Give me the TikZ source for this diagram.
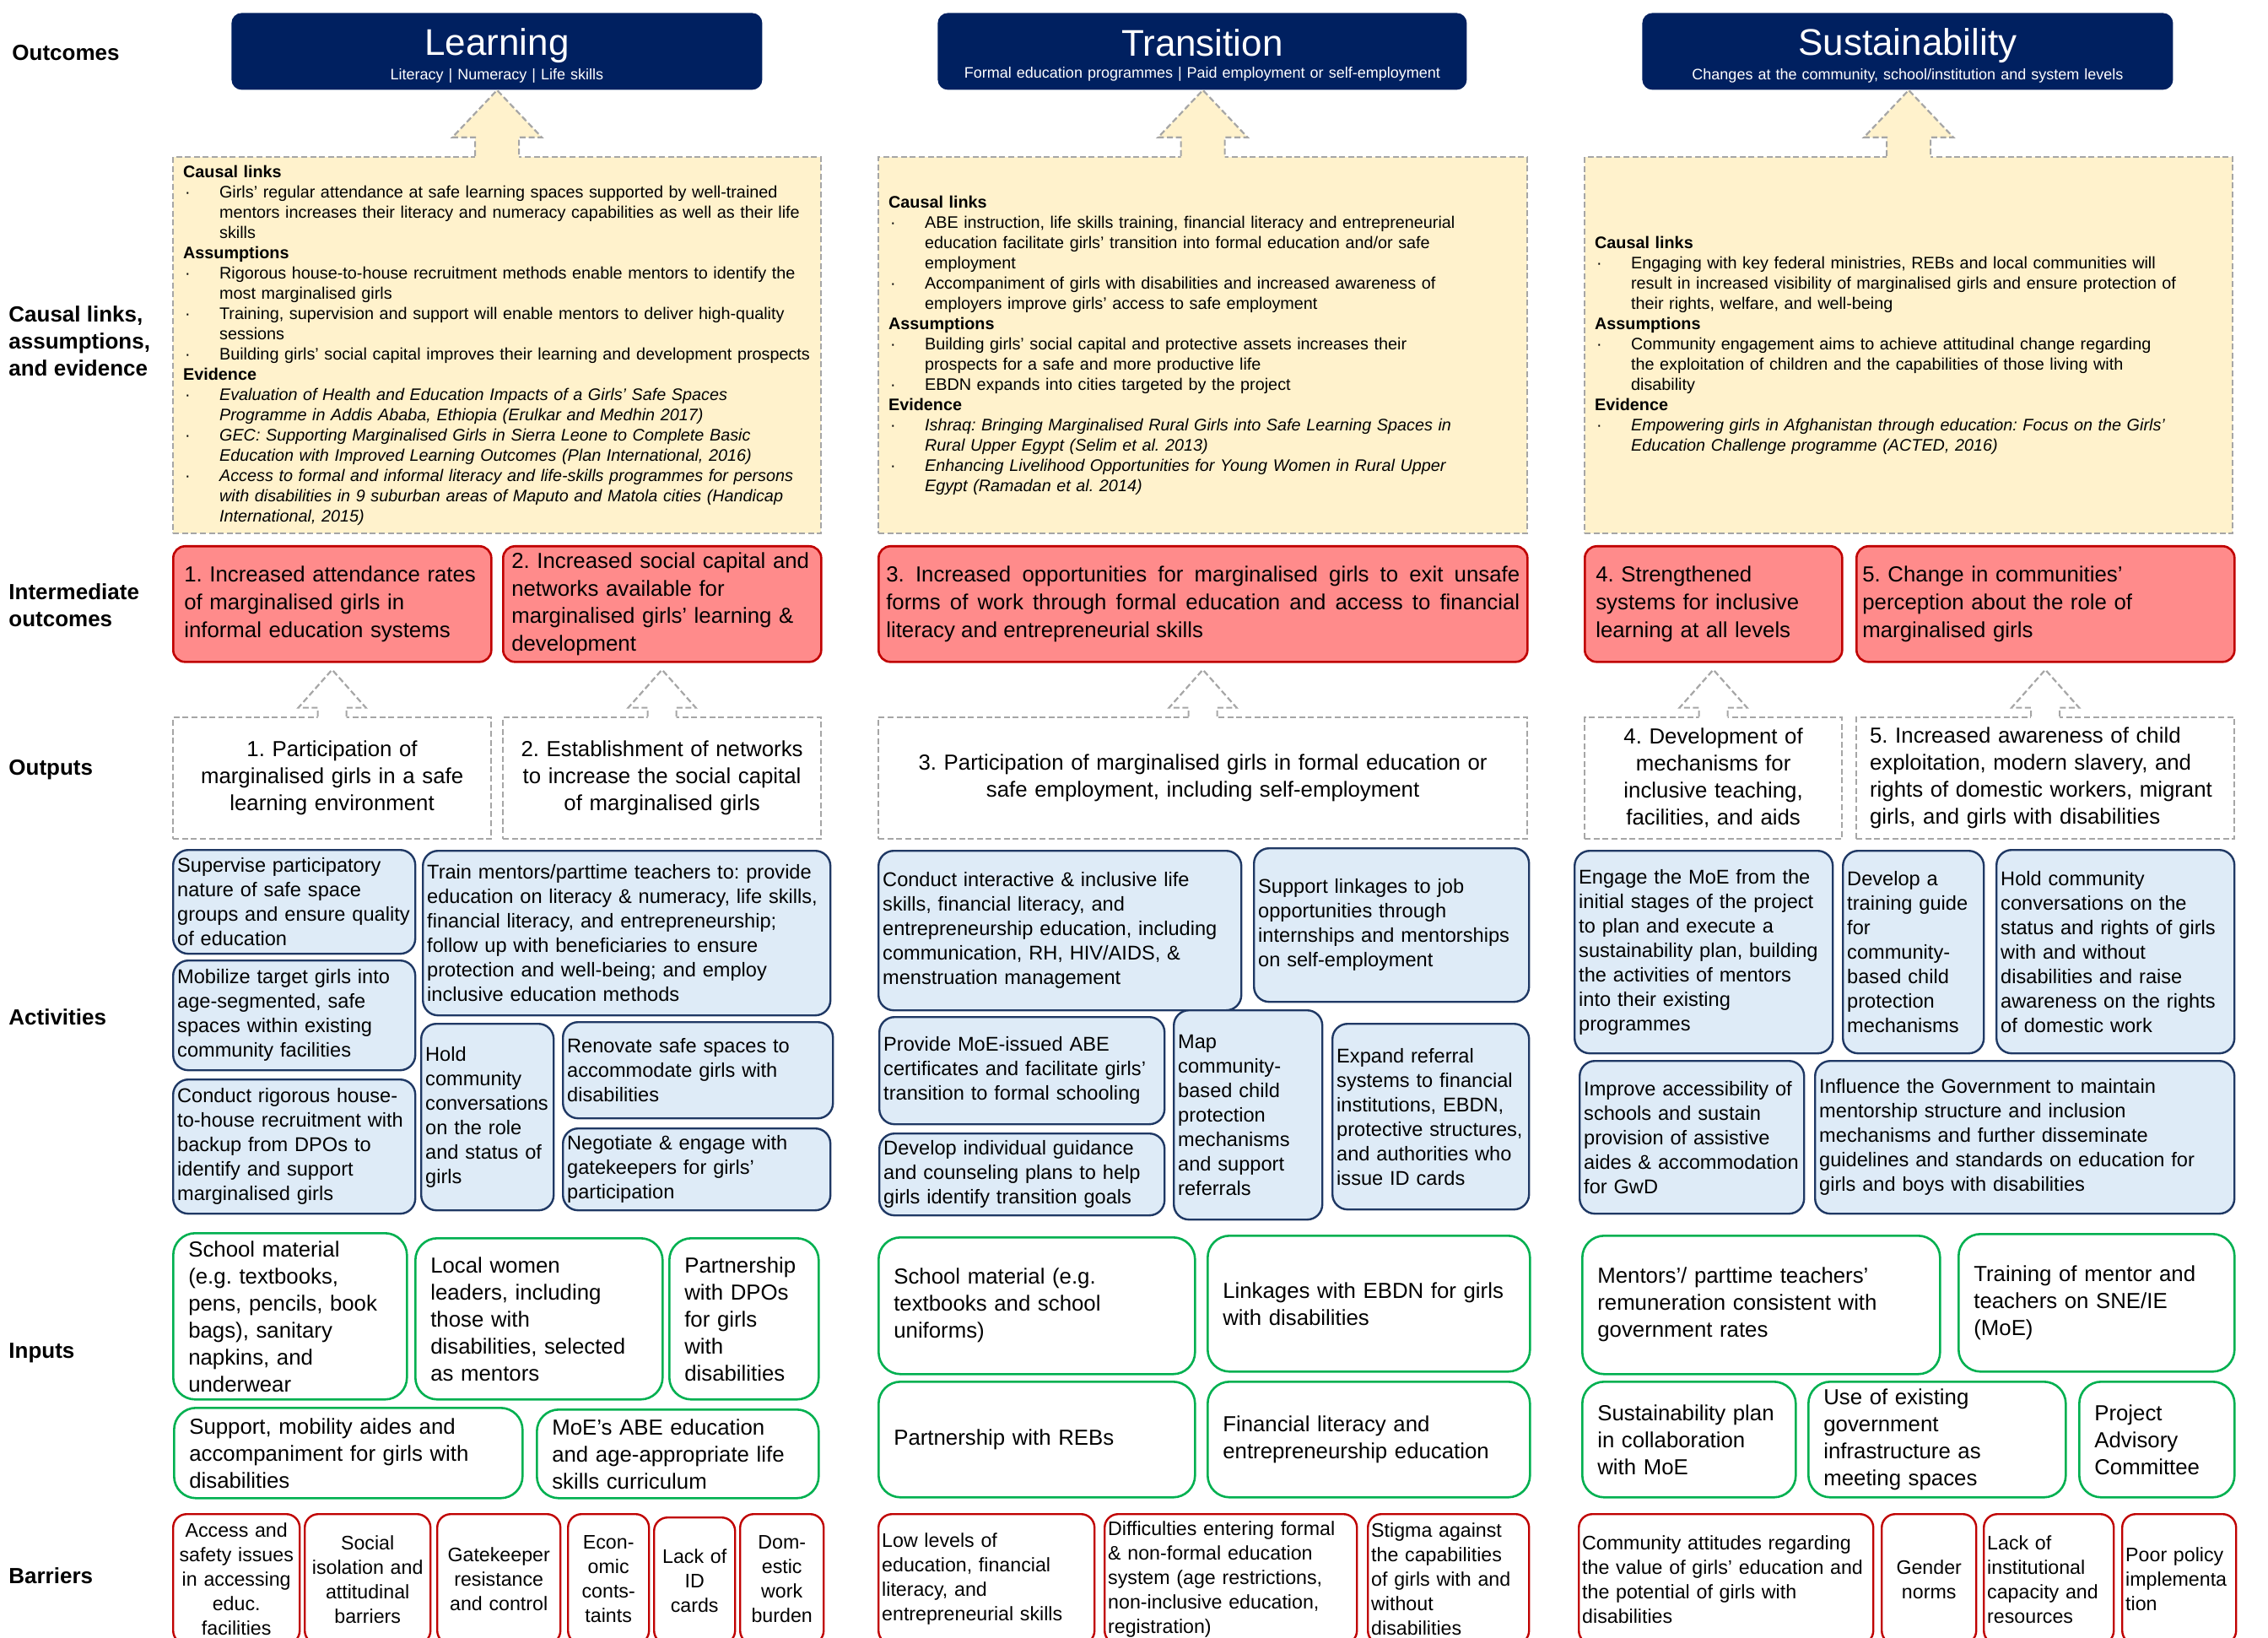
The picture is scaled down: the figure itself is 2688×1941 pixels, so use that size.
\documentclass[tikz,border=0pt]{standalone}
\usepackage{fontspec}
\setmainfont{Liberation Sans}
\usetikzlibrary{calc}

\definecolor{navy}{HTML}{002060}
\definecolor{cream}{HTML}{FFF2CC}
\definecolor{dashgray}{HTML}{A6A6A6}
\definecolor{salmon}{HTML}{FF8B8B}
\definecolor{darkred}{HTML}{C00000}
\definecolor{actblue}{HTML}{DEEBF7}
\definecolor{actline}{HTML}{1F3864}
\definecolor{ingreen}{HTML}{00B050}

\newcommand\clhead[1]{\textbf{#1}\par}
\newcommand\clitem[1]{\noindent\hangindent=21.5pt\hangafter=1\makebox[21.5pt][l]{\hspace{1pt}·}#1\par}

% hollow block arrow from the top of one node up to the bottom of another
\newcommand\blockarrow[7]{%
  \fill[#1] let \p1=(#2.north), \p2=(#3.south) in
    ({\x1-#4},{\y1-1.2pt}) -- ({\x1-#4},{\y2-#7-#6}) -- ({\x1-#5},{\y2-#7-#6})
    -- (\x1,{\y2-#7}) -- ({\x1+#5},{\y2-#7-#6}) -- ({\x1+#4},{\y2-#7-#6})
    -- ({\x1+#4},{\y1-1.2pt}) -- cycle;
  \draw[dashline] let \p1=(#2.north), \p2=(#3.south) in
    ({\x1-#4},\y1) -- ({\x1-#4},{\y2-#7-#6}) -- ({\x1-#5},{\y2-#7-#6})
    -- (\x1,{\y2-#7}) -- ({\x1+#5},{\y2-#7-#6}) -- ({\x1+#4},{\y2-#7-#6})
    -- ({\x1+#4},\y1);
}

\tikzset{
  boxpad/.initial=2pt,
  wh/.style 2 args={anchor=north west, inner xsep=0pt, inner ysep=0pt,
    minimum width=#1*0.5pt, minimum height=#2*0.5pt,
    text width=#1*0.5pt-2*\pgfkeysvalueof{/tikz/boxpad}},
  rowlabel/.style={font=\bfseries\fontsize{13}{16}\selectfont, align=left, anchor=west, inner sep=0pt},
  dashline/.style={draw=dashgray, line width=1.1pt, dash pattern=on 3.5pt off 1.8pt},
  headbox/.style={fill=navy, text=white, rounded corners=6pt, align=center, font=\fontsize{9}{11}\selectfont},
  clbox/.style={dashline, fill=cream, boxpad=6pt, align=left, font=\fontsize{9.9}{12}\selectfont},
  iobox/.style={fill=salmon, draw=darkred, line width=1.3pt, rounded corners=7pt, boxpad=6.5pt, align=left, font=\fontsize{12.9}{16.3}\selectfont},
  outbox/.style={dashline, fill=white, boxpad=8pt, align=center, font=\fontsize{12.9}{16}\selectfont},
  actbox/.style={fill=actblue, draw=actline, line width=1.2pt, rounded corners=9pt, boxpad=2.5pt, align=left, font=\fontsize{11.8}{14.5}\selectfont},
  inbox/.style={fill=white, draw=ingreen, line width=1.3pt, rounded corners=13pt, boxpad=9pt, align=left, font=\fontsize{12.9}{16}\selectfont},
  barbox/.style={fill=white, draw=darkred, line width=1.2pt, rounded corners=8pt, boxpad=2pt, align=center, font=\fontsize{11.6}{14.5}\selectfont}
}

\begin{document}
\frenchspacing
\begin{tikzpicture}[x=0.5pt, y=-0.5pt]
\useasboundingbox (0,0) rectangle (2688,1941);

% row labels
\node[rowlabel] (lout) at (14,63) {Outcomes};
\node[rowlabel] (lcl) at (10,404) {Causal links,\\assumptions,\\and evidence};
\node[rowlabel] (lio) at (10,717) {Intermediate\\outcomes};
\node[rowlabel] (lop) at (10,912) {Outputs};
\node[rowlabel] (lact) at (10,1205) {Activities};
\node[rowlabel] (lin) at (10,1603) {Inputs};
\node[rowlabel] (lbar) at (10,1867) {Barriers};

% outcomes
\node[headbox, wh={629}{91}] (learn) at (274,15) {{\fontsize{22}{24}\selectfont\rule{0pt}{21pt}Learning}\\[2pt]Literacy | Numeracy | Life skills};
\node[headbox, wh={627}{91}] (trans) at (1111,15) {{\fontsize{22}{24}\selectfont\rule{0pt}{21pt}Transition}\\[2pt]Formal education programmes | Paid employment or self-employment};
\node[headbox, wh={629}{91}] (sust) at (1946,15) {{\fontsize{22}{24}\selectfont\rule{0pt}{21pt}Sustainability}\\[2pt]Changes at the community, school/institution and system levels};

% causal links, assumptions and evidence
\node[clbox, wh={768}{446}] (cl1) at (204,185) {%
\clhead{Causal links}
\clitem{Girls’ regular attendance at safe learning spaces supported by well-trained\newline mentors increases their literacy and numeracy capabilities as well as their life\newline skills}
\clhead{Assumptions}
\clitem{Rigorous house-to-house recruitment methods enable mentors to identify the\newline most marginalised girls}
\clitem{Training, supervision and support will enable mentors to deliver high-quality\newline sessions}
\clitem{Building girls’ social capital improves their learning and development prospects}
\clhead{Evidence}
\clitem{\textit{Evaluation of Health and Education Impacts of a Girls’ Safe Spaces\newline Programme in Addis Ababa, Ethiopia (Erulkar and Medhin 2017)}}
\clitem{\textit{GEC: Supporting Marginalised Girls in Sierra Leone to Complete Basic\newline Education with Improved Learning Outcomes (Plan International, 2016)}}
\clitem{\textit{Access to formal and informal literacy and life-skills programmes for persons\newline with disabilities in 9 suburban areas of Maputo and Matola cities (Handicap\newline International, 2015)}}};
\node[clbox, wh={769}{446}] (cl2) at (1040,185) {%
\clhead{Causal links}
\clitem{ABE instruction, life skills training, financial literacy and entrepreneurial\newline education facilitate girls’ transition into formal education and/or safe\newline employment}
\clitem{Accompaniment of girls with disabilities and increased awareness of\newline employers improve girls’ access to safe employment}
\clhead{Assumptions}
\clitem{Building girls’ social capital and protective assets increases their\newline prospects for a safe and more productive life}
\clitem{EBDN expands into cities targeted by the project}
\clhead{Evidence}
\clitem{\textit{Ishraq: Bringing Marginalised Rural Girls into Safe Learning Spaces in\newline Rural Upper Egypt (Selim et al. 2013)}}
\clitem{\textit{Enhancing Livelihood Opportunities for Young Women in Rural Upper\newline Egypt (Ramadan et al. 2014)}}};
\node[clbox, wh={768}{446}] (cl3) at (1877,185) {%
\clhead{Causal links}
\clitem{Engaging with key federal ministries, REBs and local communities will\newline result in increased visibility of marginalised girls and ensure protection of\newline their rights, welfare, and well-being}
\clhead{Assumptions}
\clitem{Community engagement aims to achieve attitudinal change regarding\newline the exploitation of children and the capabilities of those living with\newline disability}
\clhead{Evidence}
\clitem{\textit{Empowering girls in Afghanistan through education: Focus on the Girls’\newline Education Challenge programme (ACTED, 2016)}}};

% intermediate outcomes
\node[iobox, wh={377}{137}] (io1) at (204,646) {1. Increased attendance rates\\of marginalised girls in\\informal education systems};
\node[iobox, boxpad=5pt, wh={377}{137}] (io2) at (595,646) {2. Increased social capital and\\networks available for\\marginalised girls’ learning \&\\development};
\node[iobox, align=justify, boxpad=4.5pt, wh={769}{137}] (io3) at (1040,646) {3. Increased opportunities for marginalised girls to exit unsafe\linebreak forms of work through formal education and access to financial\linebreak literacy and entrepreneurial skills};
\node[iobox, wh={305}{137}] (io4) at (1877,646) {4. Strengthened\\systems for inclusive\\learning at all levels};
\node[iobox, boxpad=3.5pt, wh={448}{137}] (io5) at (2199,646) {5. Change in communities’\\perception about the role of\\marginalised girls};

% outputs
\node[outbox, wh={377}{144}] (op1) at (204,849) {1. Participation of\\marginalised girls in a safe\\learning environment};
\node[outbox, wh={377}{144}] (op2) at (595,849) {2. Establishment of networks\\to increase the social capital\\of marginalised girls};
\node[outbox, wh={769}{144}] (op3) at (1040,849) {3. Participation of marginalised girls in formal education or\\safe employment, including self-employment};
\node[outbox, wh={305}{144}] (op4) at (1877,849) {4. Development of\\mechanisms for\\inclusive teaching,\\facilities, and aids};
\node[outbox, align=left, wh={448}{144}] (op5) at (2199,849) {5. Increased awareness of child\\exploitation, modern slavery, and\\rights of domestic workers, migrant\\girls, and girls with disabilities};

% activities
\node[actbox, wh={287}{123}] (a1) at (204,1006) {Supervise participatory\\nature of safe space\\groups and ensure quality\\of education};
\node[actbox, wh={287}{130}] (a2) at (204,1137) {Mobilize target girls into\\age-segmented, safe\\spaces within existing\\community facilities};
\node[actbox, wh={287}{159}] (a3) at (204,1278) {Conduct rigorous house-\\to-house recruitment with\\backup from DPOs to\\identify and support\\marginalised girls};
\node[actbox, wh={483}{195}] (a4) at (500,1007) {Train mentors/parttime teachers to: provide\\education on literacy \& numeracy, life skills,\\financial literacy, and entrepreneurship;\\follow up with beneficiaries to ensure\\protection and well-being; and employ\\inclusive education methods};
\node[actbox, wh={157}{221}] (a5) at (498,1212) {Hold\\community\\conversations\\on the role\\and status of\\girls};
\node[actbox, wh={320}{114}] (a6) at (666,1210) {Renovate safe spaces to\\accommodate girls with\\disabilities};
\node[actbox, wh={317}{97}] (a7) at (666,1336) {Negotiate \& engage with\\gatekeepers for girls’\\participation};

\node[actbox, wh={430}{189}] (b1) at (1040,1007) {Conduct interactive \& inclusive life\\skills, financial literacy, and\\entrepreneurship education, including\\communication, RH, HIV/AIDS, \&\\menstruation management};
\node[actbox, wh={326}{182}] (b2) at (1485,1004) {Support linkages to job\\opportunities through\\internships and mentorships\\on self-employment};
\node[actbox, wh={338}{127}] (b3) at (1041,1204) {Provide MoE-issued ABE\\certificates and facilitate girls’\\transition to formal schooling};
\node[actbox, wh={338}{97}] (b4) at (1041,1342) {Develop individual guidance\\and counseling plans to help\\girls identify transition goals};
\node[actbox, wh={176}{248}] (b5) at (1390,1196) {Map\\community-\\based child\\protection\\mechanisms\\and support\\referrals};
\node[actbox, wh={233}{220}] (b6) at (1578,1212) {Expand referral\\systems to financial\\institutions, EBDN,\\protective structures,\\and authorities who\\issue ID cards};

\node[actbox, wh={306}{240}] (c1) at (1865,1007) {Engage the MoE from the\\initial stages of the project\\to plan and execute a\\sustainability plan, building\\the activities of mentors\\into their existing\\programmes};
\node[actbox, wh={167}{240}] (c2) at (2183,1007) {Develop a\\training guide\\for\\community-\\based child\\protection\\mechanisms};
\node[actbox, wh={282}{241}] (c3) at (2365,1006) {Hold community\\conversations on the\\status and rights of girls\\with and without\\disabilities and raise\\awareness on the rights\\of domestic work};
\node[actbox, wh={266}{181}] (c4) at (1871,1256) {Improve accessibility of\\schools and sustain\\provision of assistive\\aides \& accommodation\\for GwD};
\node[actbox, wh={497}{181}] (c5) at (2150,1256) {Influence the Government to maintain\\mentorship structure and inclusion\\mechanisms and further disseminate\\guidelines and standards on education for\\girls and boys with disabilities};

% inputs
\node[inbox, wh={277}{197}] (i1) at (204,1460) {School material\\(e.g. textbooks,\\pens, pencils, book\\bags), sanitary\\napkins, and\\underwear};
\node[inbox, wh={293}{191}] (i2) at (491,1466) {Local women\\leaders, including\\those with\\disabilities, selected\\as mentors};
\node[inbox, wh={177}{191}] (i3) at (792,1466) {Partnership\\with DPOs\\for girls\\with\\disabilities};
\node[inbox, wh={413}{107}] (i4) at (205,1667) {Support, mobility aides and\\accompaniment for girls with\\disabilities};
\node[inbox, wh={334}{105}] (i5) at (635,1669) {MoE’s ABE education\\and age-appropriate life\\skills curriculum};

\node[inbox, wh={375}{162}] (j1) at (1040,1465) {School material (e.g.\\textbooks and school\\uniforms)};
\node[inbox, wh={382}{161}] (j2) at (1430,1463) {Linkages with EBDN for girls\\with disabilities};
\node[inbox, wh={375}{137}] (j3) at (1040,1636) {Partnership with REBs};
\node[inbox, wh={382}{137}] (j4) at (1430,1636) {Financial literacy and\\entrepreneurship education};

\node[inbox, wh={424}{164}] (k1) at (1874,1463) {Mentors’/ parttime teachers’\\remuneration consistent with\\government rates};
\node[inbox, wh={327}{163}] (k2) at (2320,1461) {Training of mentor and\\teachers on SNE/IE\\(MoE)};
\node[inbox, wh={253}{137}] (k3) at (1874,1636) {Sustainability plan\\in collaboration\\with MoE};
\node[inbox, wh={305}{137}] (k4) at (2142,1636) {Use of existing\\government\\infrastructure as\\meeting spaces};
\node[inbox, wh={184}{137}] (k5) at (2463,1636) {Project\\Advisory\\Committee};

% barriers
\node[barbox, wh={150}{154}] (l1) at (204,1793) {Access and\\safety issues\\in accessing\\educ.\\facilities};
\node[barbox, wh={149}{154}] (l2) at (360,1793) {Social\\isolation and\\attitudinal\\barriers};
\node[barbox, wh={146}{154}] (l3) at (517,1793) {Gatekeeper\\resistance\\and control};
\node[barbox, wh={96}{154}] (l4) at (672,1793) {Econ-\\omic\\conts-\\taints};
\node[barbox, wh={96}{150}] (l5) at (774,1797) {Lack of\\ID\\cards};
\node[barbox, wh={99}{154}] (l6) at (876,1793) {Dom-\\estic\\work\\burden};

\node[barbox, align=left, wh={256}{154}] (m1) at (1040,1793) {Low levels of\\education, financial\\literacy, and\\entrepreneurial skills};
\node[barbox, align=left, wh={299}{154}] (m2) at (1308,1793) {Difficulties entering formal\\\& non-formal education\\system (age restrictions,\\non-inclusive education,\\registration)};
\node[barbox, align=left, wh={191}{154}] (m3) at (1620,1793) {Stigma against\\the capabilities\\of girls with and\\without\\disabilities};

\node[barbox, align=left, wh={349}{154}] (n1) at (1870,1793) {Community attitudes regarding\\the value of girls’ education and\\the potential of girls with\\disabilities};
\node[barbox, wh={112}{154}] (n2) at (2229,1793) {Gender\\norms};
\node[barbox, align=left, wh={154}{154}] (n3) at (2350,1793) {Lack of\\institutional\\capacity and\\resources};
\node[barbox, align=left, wh={135}{154}] (n4) at (2514,1793) {Poor policy\\implementa\\tion};

% arrows
\blockarrow{cream}{cl1}{learn}{13pt}{26.5pt}{28pt}{0pt}
\blockarrow{cream}{cl2}{trans}{13pt}{26.5pt}{28pt}{0pt}
\blockarrow{cream}{cl3}{sust}{13pt}{26.5pt}{28pt}{0pt}
\blockarrow{white}{op1}{io1}{8.5pt}{20pt}{22.5pt}{4pt}
\blockarrow{white}{op2}{io2}{8.5pt}{20pt}{22.5pt}{4pt}
\blockarrow{white}{op3}{io3}{8.5pt}{20pt}{22.5pt}{4pt}
\blockarrow{white}{op4}{io4}{8.5pt}{20pt}{22.5pt}{4pt}
\blockarrow{white}{op5}{io5}{8.5pt}{20pt}{22.5pt}{4pt}
\end{tikzpicture}
\end{document}
